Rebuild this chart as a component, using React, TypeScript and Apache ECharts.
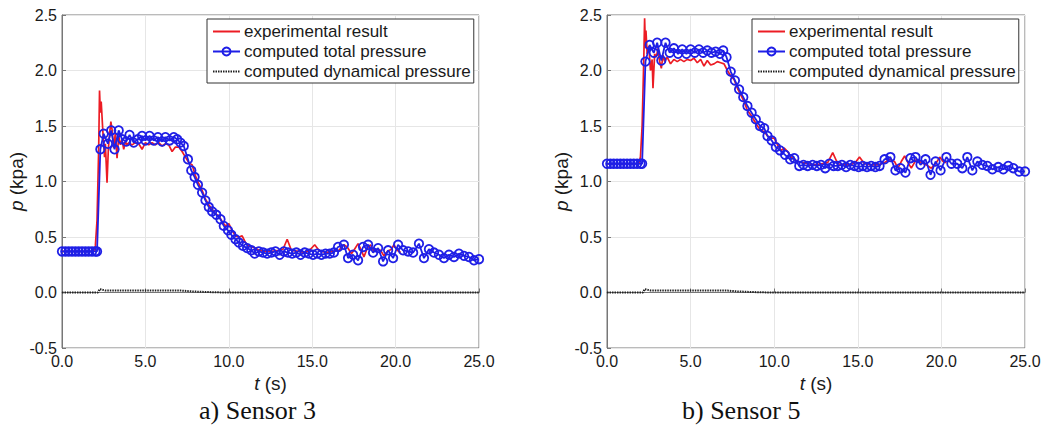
import React, { useEffect, useRef } from "react";
import * as echarts from "echarts";

// ---------- data (t in s, p in kPa) ----------
const legendNames = ["experimental result", "computed total pressure", "computed dynamical pressure"];
const captions = ["a) Sensor 3", "b) Sensor 5"];
const xTicks = [0, 5, 10, 15, 20, 25];
const yTicks = [-0.5, 0, 0.5, 1.0, 1.5, 2.0, 2.5];

const s3Experimental: number[][] = [
  [0, 0.37], [1.9, 0.37], [2.0, 0.42], [2.1, 0.65], [2.2, 1.3], [2.25, 1.82], [2.3, 1.62], [2.35, 1.72],
  [2.45, 1.45], [2.55, 1.22], [2.6, 1.34], [2.7, 0.99], [2.78, 1.3], [2.85, 1.42], [2.93, 1.54], [3.0, 1.47],
  [3.1, 1.3], [3.2, 1.44], [3.3, 1.21], [3.4, 1.41], [3.5, 1.33], [3.6, 1.38], [3.7, 1.29], [3.8, 1.36],
  [3.9, 1.33], [4.0, 1.35], [4.2, 1.33], [4.4, 1.35], [4.6, 1.34], [4.8, 1.29], [5.0, 1.35], [5.2, 1.33],
  [5.4, 1.35], [5.6, 1.33], [5.8, 1.35], [6.0, 1.32], [6.2, 1.34], [6.4, 1.33], [6.6, 1.27], [6.8, 1.31],
  [7.0, 1.31], [7.2, 1.27], [7.4, 1.22], [7.6, 1.17], [7.8, 1.15], [8.0, 1.05], [8.2, 0.98], [8.4, 0.92],
  [8.6, 0.84], [8.8, 0.79], [9.0, 0.75], [9.2, 0.71], [9.4, 0.69], [9.6, 0.64], [9.8, 0.6], [10.0, 0.62],
  [10.2, 0.56], [10.4, 0.51], [10.6, 0.5], [10.8, 0.51], [11.0, 0.45], [11.2, 0.42], [11.4, 0.41], [11.6, 0.4],
  [11.8, 0.38], [12.2, 0.37], [12.6, 0.37], [13.0, 0.38], [13.25, 0.39], [13.5, 0.48], [13.75, 0.38], [14.2, 0.37],
  [14.6, 0.36], [14.9, 0.39], [15.15, 0.43], [15.4, 0.38], [15.8, 0.36], [16.2, 0.37], [16.6, 0.38], [16.9, 0.43],
  [17.1, 0.41], [17.35, 0.35], [17.5, 0.38], [17.75, 0.44], [17.95, 0.38], [18.1, 0.32], [18.3, 0.4], [18.5, 0.43],
  [18.7, 0.37], [18.9, 0.39], [19.1, 0.38], [19.3, 0.33], [19.5, 0.37], [19.75, 0.39], [19.9, 0.43], [20.1, 0.38],
  [20.3, 0.36],
];

const s3Total: number[][] = [
  [0, 0.37], [0.2, 0.37], [0.4, 0.37], [0.6, 0.37], [0.8, 0.37], [1.0, 0.37], [1.2, 0.37], [1.4, 0.37],
  [1.6, 0.37], [1.8, 0.37], [2.0, 0.37], [2.1, 0.37],
  [2.3, 1.29], [2.5, 1.43], [2.75, 1.34], [2.95, 1.46], [3.15, 1.29], [3.4, 1.46], [3.6, 1.38], [3.85, 1.36],
  [4.05, 1.42], [4.3, 1.35], [4.55, 1.38], [4.8, 1.41], [5.0, 1.37], [5.25, 1.41], [5.5, 1.37], [5.75, 1.4],
  [6.0, 1.36], [6.2, 1.4], [6.45, 1.37], [6.7, 1.4], [6.9, 1.38], [7.1, 1.35], [7.3, 1.32], [7.55, 1.2],
  [7.75, 1.1], [7.95, 1.04], [8.15, 0.97], [8.4, 0.9], [8.6, 0.83], [8.8, 0.77], [9.0, 0.73], [9.25, 0.7],
  [9.5, 0.66], [9.7, 0.6], [9.95, 0.56], [10.15, 0.52], [10.4, 0.48], [10.6, 0.45], [10.85, 0.42], [11.1, 0.4],
  [11.35, 0.38], [11.55, 0.35], [11.8, 0.37], [12.05, 0.36], [12.3, 0.35], [12.55, 0.36], [12.8, 0.37], [13.05, 0.34],
  [13.3, 0.37], [13.55, 0.36], [13.8, 0.35], [14.05, 0.36], [14.3, 0.34], [14.55, 0.36], [14.8, 0.35], [15.05, 0.34],
  [15.3, 0.35], [15.55, 0.34], [15.8, 0.35], [16.05, 0.35], [16.3, 0.36], [16.55, 0.41], [16.9, 0.43], [17.15, 0.31],
  [17.45, 0.34], [17.75, 0.29], [18.05, 0.41], [18.35, 0.43], [18.65, 0.36], [18.95, 0.4], [19.25, 0.28], [19.55, 0.38],
  [19.85, 0.31], [20.15, 0.43], [20.45, 0.38], [20.75, 0.37], [21.05, 0.36], [21.4, 0.44], [21.7, 0.31], [22.0, 0.39],
  [22.3, 0.36], [22.6, 0.34], [22.9, 0.31], [23.2, 0.34], [23.5, 0.32], [23.8, 0.35], [24.1, 0.33], [24.4, 0.32],
  [24.7, 0.29], [25.0, 0.3],
];

const s3Dynamic: number[][] = [
  [0, 0], [2.15, 0], [2.25, 0.03], [2.4, 0.025], [2.6, 0.018], [5.0, 0.018], [7.2, 0.017], [7.8, 0.01],
  [8.5, 0.005], [9.5, 0.001], [10.5, 0], [25, 0],
];

const s5Experimental: number[][] = [
  [0, 1.16], [1.9, 1.16], [2.0, 1.22], [2.1, 1.5], [2.2, 2.1], [2.25, 2.47], [2.3, 2.2], [2.33, 2.36],
  [2.4, 2.15], [2.5, 2.22], [2.6, 2.0], [2.7, 2.1], [2.75, 1.84], [2.85, 2.15], [2.95, 2.12], [3.05, 2.2],
  [3.15, 2.08], [3.25, 2.02], [3.35, 2.14], [3.45, 2.08], [3.6, 2.12], [3.8, 2.06], [4.0, 2.1], [4.2, 2.08],
  [4.4, 2.1], [4.6, 2.08], [4.8, 2.1], [5.0, 2.09], [5.2, 2.11], [5.4, 2.07], [5.6, 2.1], [5.8, 2.04],
  [6.0, 2.09], [6.2, 2.05], [6.4, 2.06], [6.6, 2.08], [6.8, 2.07], [7.0, 2.06], [7.2, 2.0], [7.4, 1.95],
  [7.6, 1.92], [7.8, 1.84], [8.0, 1.78], [8.2, 1.72], [8.4, 1.64], [8.6, 1.6], [8.8, 1.55], [9.0, 1.5],
  [9.2, 1.46], [9.4, 1.45], [9.6, 1.41], [9.8, 1.39], [10.0, 1.39], [10.2, 1.33], [10.4, 1.28], [10.6, 1.3],
  [10.8, 1.27], [11.0, 1.22], [11.2, 1.2], [11.4, 1.18], [11.7, 1.17], [12.0, 1.16], [12.4, 1.15], [12.8, 1.16],
  [13.2, 1.17], [13.5, 1.26], [13.8, 1.16], [14.2, 1.15], [14.6, 1.15], [14.9, 1.18], [15.1, 1.22], [15.4, 1.16],
  [15.8, 1.15], [16.2, 1.15], [16.6, 1.17], [16.9, 1.2], [17.2, 1.18], [17.4, 1.12], [17.6, 1.18], [17.8, 1.23],
  [18.0, 1.17], [18.2, 1.12], [18.5, 1.2], [18.8, 1.17], [19.1, 1.15], [19.4, 1.12], [19.7, 1.17], [19.9, 1.22],
  [20.1, 1.18], [20.3, 1.17],
];

const s5Total: number[][] = [
  [0, 1.16], [0.2, 1.16], [0.4, 1.16], [0.6, 1.16], [0.8, 1.16], [1.0, 1.16], [1.2, 1.16], [1.4, 1.16],
  [1.6, 1.16], [1.8, 1.16], [2.0, 1.16], [2.1, 1.16],
  [2.3, 2.08], [2.55, 2.23], [2.8, 2.16], [3.0, 2.25], [3.25, 2.09], [3.5, 2.25], [3.75, 2.16], [4.0, 2.2],
  [4.25, 2.15], [4.5, 2.19], [4.75, 2.15], [5.0, 2.19], [5.25, 2.16], [5.5, 2.19], [5.75, 2.16], [6.0, 2.18],
  [6.25, 2.16], [6.5, 2.17], [6.75, 2.15], [6.95, 2.18], [7.15, 2.12], [7.4, 1.99], [7.65, 1.91], [7.9, 1.83],
  [8.15, 1.76], [8.4, 1.68], [8.65, 1.62], [8.9, 1.56], [9.15, 1.5], [9.4, 1.48], [9.6, 1.41], [9.85, 1.37],
  [10.1, 1.31], [10.35, 1.28], [10.65, 1.24], [10.95, 1.2], [11.2, 1.21], [11.5, 1.14], [11.75, 1.15], [12.0, 1.14],
  [12.3, 1.15], [12.55, 1.14], [12.8, 1.15], [13.05, 1.12], [13.3, 1.16], [13.55, 1.14], [13.8, 1.14], [14.05, 1.15],
  [14.3, 1.13], [14.55, 1.15], [14.8, 1.14], [15.05, 1.13], [15.3, 1.14], [15.55, 1.13], [15.8, 1.14], [16.05, 1.13],
  [16.3, 1.14], [16.6, 1.2], [16.95, 1.22], [17.25, 1.1], [17.55, 1.12], [17.85, 1.08], [18.15, 1.21], [18.45, 1.22],
  [18.75, 1.15], [19.05, 1.2], [19.35, 1.06], [19.65, 1.18], [19.95, 1.1], [20.3, 1.22], [20.6, 1.16], [20.95, 1.16],
  [21.25, 1.12], [21.55, 1.22], [21.85, 1.1], [22.15, 1.18], [22.45, 1.15], [22.75, 1.14], [23.05, 1.11], [23.4, 1.13],
  [23.7, 1.11], [24.0, 1.14], [24.3, 1.12], [24.65, 1.09], [25.0, 1.09],
];

const s5Dynamic: number[][] = [
  [0, 0], [2.15, 0], [2.25, 0.03], [2.4, 0.025], [2.6, 0.018], [5.0, 0.018], [7.2, 0.017], [7.8, 0.01],
  [8.5, 0.005], [9.5, 0.001], [10.5, 0], [25, 0],
];

// ---------- styling ----------
const RED = "#ec1c24";
const BLUE = "#1f1fe6";
const SANS = "Liberation Sans, Arial, sans-serif";
const SERIF = "Liberation Serif, Times New Roman, serif";

const grids = [
  { left: 62, top: 15, width: 417, height: 333 },
  { left: 607, top: 15, width: 418, height: 333 },
];
const legendLeft = [207, 752];
const captionX = [261, 744];

function buildOption() {
  const panels = [
    [s3Experimental, s3Total, s3Dynamic],
    [s5Experimental, s5Total, s5Dynamic],
  ];
  const nameStyle = {
    color: "#1a1a1a",
    fontFamily: SANS,
    fontSize: 19,
    rich: { i: { fontStyle: "italic", fontFamily: SANS, fontSize: 19, color: "#1a1a1a" } },
  };
  const labelStyle = {
    color: "#1a1a1a",
    fontFamily: SANS,
    fontSize: 16,
    margin: 5,
    formatter: (v: number) => v.toFixed(1),
  };
  const xAxis = grids.map((_, i) => ({
    type: "value",
    gridIndex: i,
    min: xTicks[0],
    max: xTicks[xTicks.length - 1],
    interval: 5,
    axisLine: { show: true, lineStyle: { color: "#777", width: 1 } },
    axisTick: { show: true, inside: true, length: 4, lineStyle: { color: "#777" } },
    splitLine: { show: true, lineStyle: { color: "#e6e6e6", width: 1 } },
    axisLabel: labelStyle,
    name: "{i|t} (s)",
    nameLocation: "middle",
    nameGap: 21,
    nameTextStyle: nameStyle,
  }));
  const yAxis = grids.map((_, i) => ({
    type: "value",
    gridIndex: i,
    min: yTicks[0],
    max: yTicks[yTicks.length - 1],
    interval: 0.5,
    axisLine: { show: true, lineStyle: { color: "#777", width: 1 } },
    axisTick: { show: true, inside: true, length: 4, lineStyle: { color: "#777" } },
    splitLine: { show: true, lineStyle: { color: "#e6e6e6", width: 1 } },
    axisLabel: labelStyle,
    name: "{i|p} (kpa)",
    nameLocation: "middle",
    nameGap: 35,
    nameRotate: 90,
    nameTextStyle: nameStyle,
  }));
  const series: any[] = [];
  panels.forEach(([exp, tot, dyn], i) => {
    series.push({
      name: legendNames[0],
      type: "line",
      xAxisIndex: i,
      yAxisIndex: i,
      data: exp,
      symbol: "none",
      lineStyle: { color: RED, width: 1.7 },
      itemStyle: { color: RED },
      z: 2,
    });
    series.push({
      name: legendNames[1],
      type: "line",
      xAxisIndex: i,
      yAxisIndex: i,
      data: tot,
      symbol: "circle",
      symbolSize: 8.5,
      showAllSymbol: true,
      lineStyle: { color: BLUE, width: 1.8 },
      itemStyle: { color: "rgba(255,255,255,0)", borderColor: BLUE, borderWidth: 1.8 },
      z: 3,
    });
    series.push({
      name: legendNames[2],
      type: "line",
      xAxisIndex: i,
      yAxisIndex: i,
      data: dyn,
      symbol: "none",
      lineStyle: { color: "#222", width: 2, type: [1.5, 1] },
      itemStyle: { color: "#222" },
      z: 4,
    });
  });
  const legend = legendLeft.map((l) => ({
    left: l,
    top: 19,
    orient: "vertical",
    data: [
      { name: legendNames[0], itemStyle: { opacity: 0 } },
      { name: legendNames[1] },
      { name: legendNames[2], itemStyle: { opacity: 0 } },
    ],
    itemWidth: 27,
    itemHeight: 10,
    itemGap: 3,
    padding: [4, 3, 3, 5],
    borderColor: "#333",
    borderWidth: 1,
    borderRadius: 0,
    backgroundColor: "#fff",
    selectedMode: false,
    textStyle: { fontFamily: SANS, fontSize: 17, color: "#1a1a1a", padding: [0, 0, 0, -1] },
  }));
  const graphic = captions.map((c, i) => ({
    type: "text",
    left: captionX[i] - 62,
    top: 397,
    style: {
      text: c,
      font: `26px ${SERIF}`,
      fill: "#111",
    },
  }));
  return {
    animation: false,
    backgroundColor: "#fff",
    grid: grids.map((g) => ({ ...g, show: true, borderColor: "#777", borderWidth: 1, backgroundColor: "transparent" })),
    xAxis,
    yAxis,
    legend,
    series,
    graphic,
  };
}

export default function App() {
  const ref = useRef<HTMLDivElement>(null);
  useEffect(() => {
    if (!ref.current) return;
    const chart = echarts.init(ref.current, null, { renderer: "svg" });
    chart.setOption(buildOption() as any);
    return () => chart.dispose();
  }, []);
  return (
    <div
      ref={ref}
      style={{ position: "absolute", left: 0, top: 0, width: 1053, height: 426, background: "#fff" }}
    />
  );
}
